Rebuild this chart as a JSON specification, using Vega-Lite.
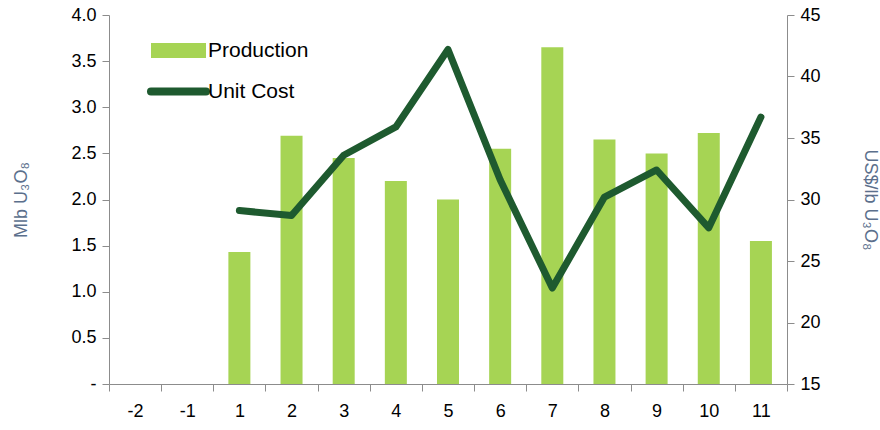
{
  "$schema": "https://vega.github.io/schema/vega-lite/v6.json",
  "width": 678,
  "height": 369,
  "autosize": "none",
  "padding": {"left": 109, "top": 15, "right": 93, "bottom": 46},
  "background": "white",
  "config": {
    "view": {"stroke": null},
    "font": "Liberation Sans",
    "axis": {"grid": false, "domainColor": "#8c8c8c", "tickColor": "#8c8c8c", "labelColor": "#000000", "labelFontSize": 18, "labelFont": "Liberation Sans", "titleFont": "Liberation Sans", "titleFontWeight": "normal", "titleFontSize": 18, "titleColor": "#5b6f8c", "tickSize": 7}
  },
  "data": {"values": [
    {"period": "-2", "production": null, "cost": null},
    {"period": "-1", "production": null, "cost": null},
    {"period": "1", "production": 1.43, "cost": 29.1},
    {"period": "2", "production": 2.69, "cost": 28.7},
    {"period": "3", "production": 2.45, "cost": 33.6},
    {"period": "4", "production": 2.2, "cost": 35.9},
    {"period": "5", "production": 2.0, "cost": 42.2},
    {"period": "6", "production": 2.55, "cost": 31.6},
    {"period": "7", "production": 3.65, "cost": 22.8},
    {"period": "8", "production": 2.65, "cost": 30.2},
    {"period": "9", "production": 2.5, "cost": 32.4},
    {"period": "10", "production": 2.72, "cost": 27.7},
    {"period": "11", "production": 1.55, "cost": 36.7}
  ]},
  "encoding": {
    "x": {"field": "period", "type": "ordinal", "sort": ["-2","-1","1","2","3","4","5","6","7","8","9","10","11"],
      "scale": {"domain": ["-2","-1","1","2","3","4","5","6","7","8","9","10","11"], "paddingInner": 0, "paddingOuter": 0},
      "axis": {"title": null, "labelAngle": 0, "labelPadding": 11, "tickBand": "extent", "tickSize": 7}}
  },
  "layer": [
    {
      "transform": [{"calculate": "'Production'", "as": "series"}],
      "mark": {"type": "bar", "size": 22},
      "encoding": {
        "y": {"field": "production", "type": "quantitative", "scale": {"domain": [0, 4]},
          "axis": {"title": "Mlb U₃O₈", "values": [0,0.5,1,1.5,2,2.5,3,3.5,4], "labelExpr": "datum.value == 0 ? '-' : format(datum.value, '.1f')", "titlePadding": 40, "labelPadding": 6}},
        "color": {"field": "series", "type": "nominal", "scale": {"domain": ["Production", "Unit Cost"], "range": ["#a6d454", "#1e5a2f"]},
          "legend": {"title": null, "orient": "none", "legendX": 59, "legendY": 25, "symbolType": "stroke", "symbolSize": 3025, "labelFontSize": 21, "labelFont": "Liberation Sans", "labelColor": "#000000", "rowPadding": -6, "labelOffset": 19,
            "encode": {"symbols": {"update": {"strokeWidth": {"signal": "datum.value == 'Production' ? 15 : 8"}, "strokeCap": {"signal": "datum.value == 'Production' ? 'butt' : 'round'"}, "stroke": {"signal": "datum.value == 'Production' ? '#a6d454' : '#1e5a2f'"}}}}}}
      }
    },
    {
      "transform": [{"filter": "datum.cost != null"}, {"calculate": "'Unit Cost'", "as": "series"}],
      "mark": {"type": "line", "strokeWidth": 7, "strokeCap": "round", "strokeJoin": "round"},
      "encoding": {
        "y": {"field": "cost", "type": "quantitative", "scale": {"domain": [15, 45]},
          "axis": {"orient": "right", "title": "US$/lb U₃O₈", "values": [15,20,25,30,35,40,45], "titlePadding": 40, "labelPadding": 6}},
        "color": {"field": "series", "type": "nominal"}
      }
    }
  ],
  "resolve": {"scale": {"y": "independent"}}
}
